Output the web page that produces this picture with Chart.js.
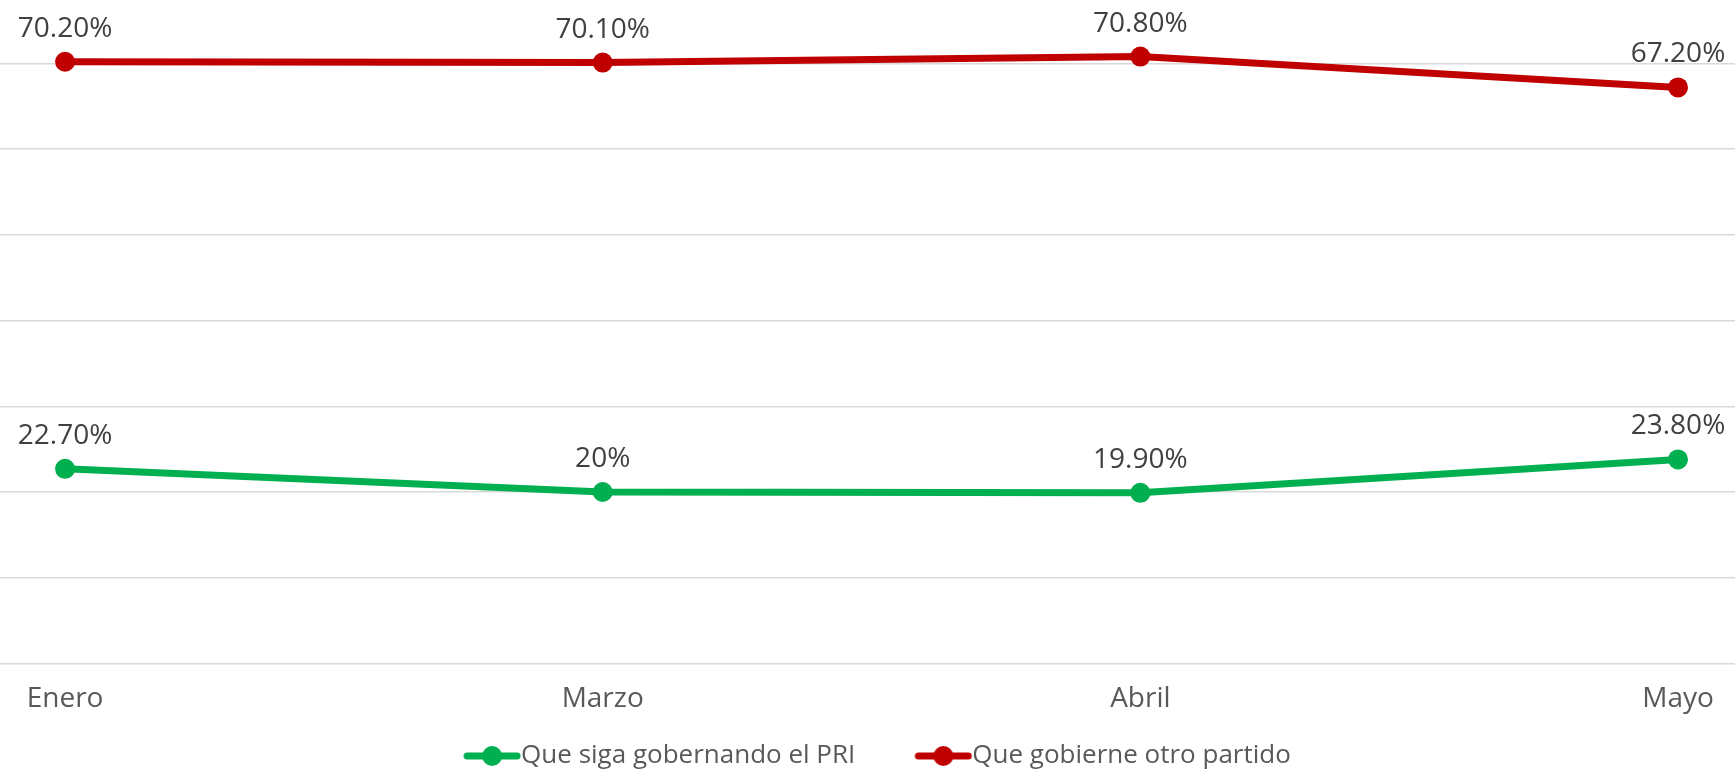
<!DOCTYPE html>
<html>
<head>
<meta charset="utf-8">
<script src="https://cdn.jsdelivr.net/npm/chart.js@4.4.1/dist/chart.umd.min.js"></script>
<style>
  html, body { margin: 0; padding: 0; background: #ffffff; }
  canvas { display: block; }
</style>
</head>
<body>
<canvas id="grafica" width="1735" height="769"></canvas>
<script>
const meses = ['Enero', 'Marzo', 'Abril', 'Mayo'];
const siguePRI = [22.7, 20, 19.9, 23.8];      // Que siga gobernando el PRI
const otroPartido = [70.2, 70.1, 70.8, 67.2];  // Que gobierne otro partido
const nombres = ['Que siga gobernando el PRI', 'Que gobierne otro partido'];

const verde = '#00B050';
const rojo = '#C00000';
const fuente = "'Open Sans', sans-serif";
const tamLeyenda = 26;
const cajaLeyenda = 96;

// formato de etiqueta: 20 -> "20%", 22.7 -> "22.70%"
const fmt = v => (Number.isInteger(v) ? v : v.toFixed(2)) + '%';

// marcador de leyenda: linea con punto al centro, pegado a la derecha
// (el lienzo es mas ancho para que el texto quede justo despues de la linea)
function marcador(color) {
    const c = document.createElement('canvas');
    c.width = cajaLeyenda + tamLeyenda;
    c.height = 22;
    const x0 = c.width - 58;
    const g = c.getContext('2d');
    g.strokeStyle = color;
    g.lineWidth = 7;
    g.lineCap = 'round';
    g.beginPath();
    g.moveTo(x0 + 4, 11);
    g.lineTo(x0 + 54, 11);
    g.stroke();
    g.fillStyle = color;
    g.beginPath();
    g.arc(x0 + 29, 11, 10, 0, Math.PI * 2);
    g.fill();
    return c;
}

const etiquetas = {
    id: 'etiquetas',
    afterLayout(chart) {
        // la leyenda del original esta un poco mas a la izquierda
        chart.legend.left -= 16;
        chart.legend.right -= 16;
    },
    afterDatasetsDraw(chart) {
        const ctx = chart.ctx;
        ctx.save();
        ctx.font = '28px ' + fuente;
        ctx.fillStyle = '#404040';
        ctx.textAlign = 'center';
        ctx.textBaseline = 'alphabetic';
        chart.data.datasets.forEach((ds, i) => {
            chart.getDatasetMeta(i).data.forEach((pt, j) => {
                ctx.fillText(fmt(ds.data[j].y), pt.x, pt.y - 25);
            });
        });
        ctx.restore();
    }
};

const serie = (valores, nombre, color) => ({
    label: nombre,
    data: valores.map((v, i) => ({ x: i, y: v })),
    borderColor: color,
    backgroundColor: color,
    borderWidth: 7,
    pointStyle: 'circle',
    pointRadius: 10,
    pointHoverRadius: 10,
    pointBorderWidth: 0,
    tension: 0,
    fill: false,
    clip: false
});

const ctx = document.getElementById('grafica').getContext('2d');
const grafica = new Chart(ctx, {
    type: 'line',
    data: {
        datasets: [
            serie(siguePRI, nombres[0], verde),
            serie(otroPartido, nombres[1], rojo)
        ]
    },
    options: {
        responsive: false,
        animation: false,
        layout: { autoPadding: false, padding: 0 },
        scales: {
            x: {
                type: 'linear',
                min: -0.121,
                max: 3.106,
                afterBuildTicks: axis => {
                    axis.ticks = meses.map((m, i) => ({ value: i }));
                },
                grid: { display: false, drawTicks: false },
                border: { display: false },
                ticks: {
                    autoSkip: false,
                    maxRotation: 0,
                    padding: 19,
                    color: '#595959',
                    font: { family: fuente, size: 28 },
                    callback: v => meses[v]
                }
            },
            y: {
                min: 0,
                max: 77.4,
                border: { display: false },
                grid: {
                    drawTicks: false,
                    lineWidth: 1.5,
                    color: c => (c.tick && c.tick.value % 10 === 0 ? '#d9d9d9' : 'rgba(0,0,0,0)')
                },
                ticks: { display: false, stepSize: 10 }
            }
        },
        plugins: {
            tooltip: { enabled: false },
            legend: {
                position: 'bottom',
                maxHeight: 34,
                labels: {
                    usePointStyle: true,
                    pointStyleWidth: cajaLeyenda,
                    padding: 8,
                    color: '#595959',
                    font: { family: fuente, size: tamLeyenda },
                    generateLabels: chart => chart.data.datasets.map((ds, i) => ({
                        text: ds.label,
                        pointStyle: marcador(ds.borderColor),
                        fillStyle: ds.borderColor,
                        strokeStyle: ds.borderColor,
                        lineWidth: 0,
                        fontColor: '#595959',
                        datasetIndex: i,
                        hidden: false
                    }))
                }
            }
        }
    },
    plugins: [etiquetas]
});
</script>
</body>
</html>
